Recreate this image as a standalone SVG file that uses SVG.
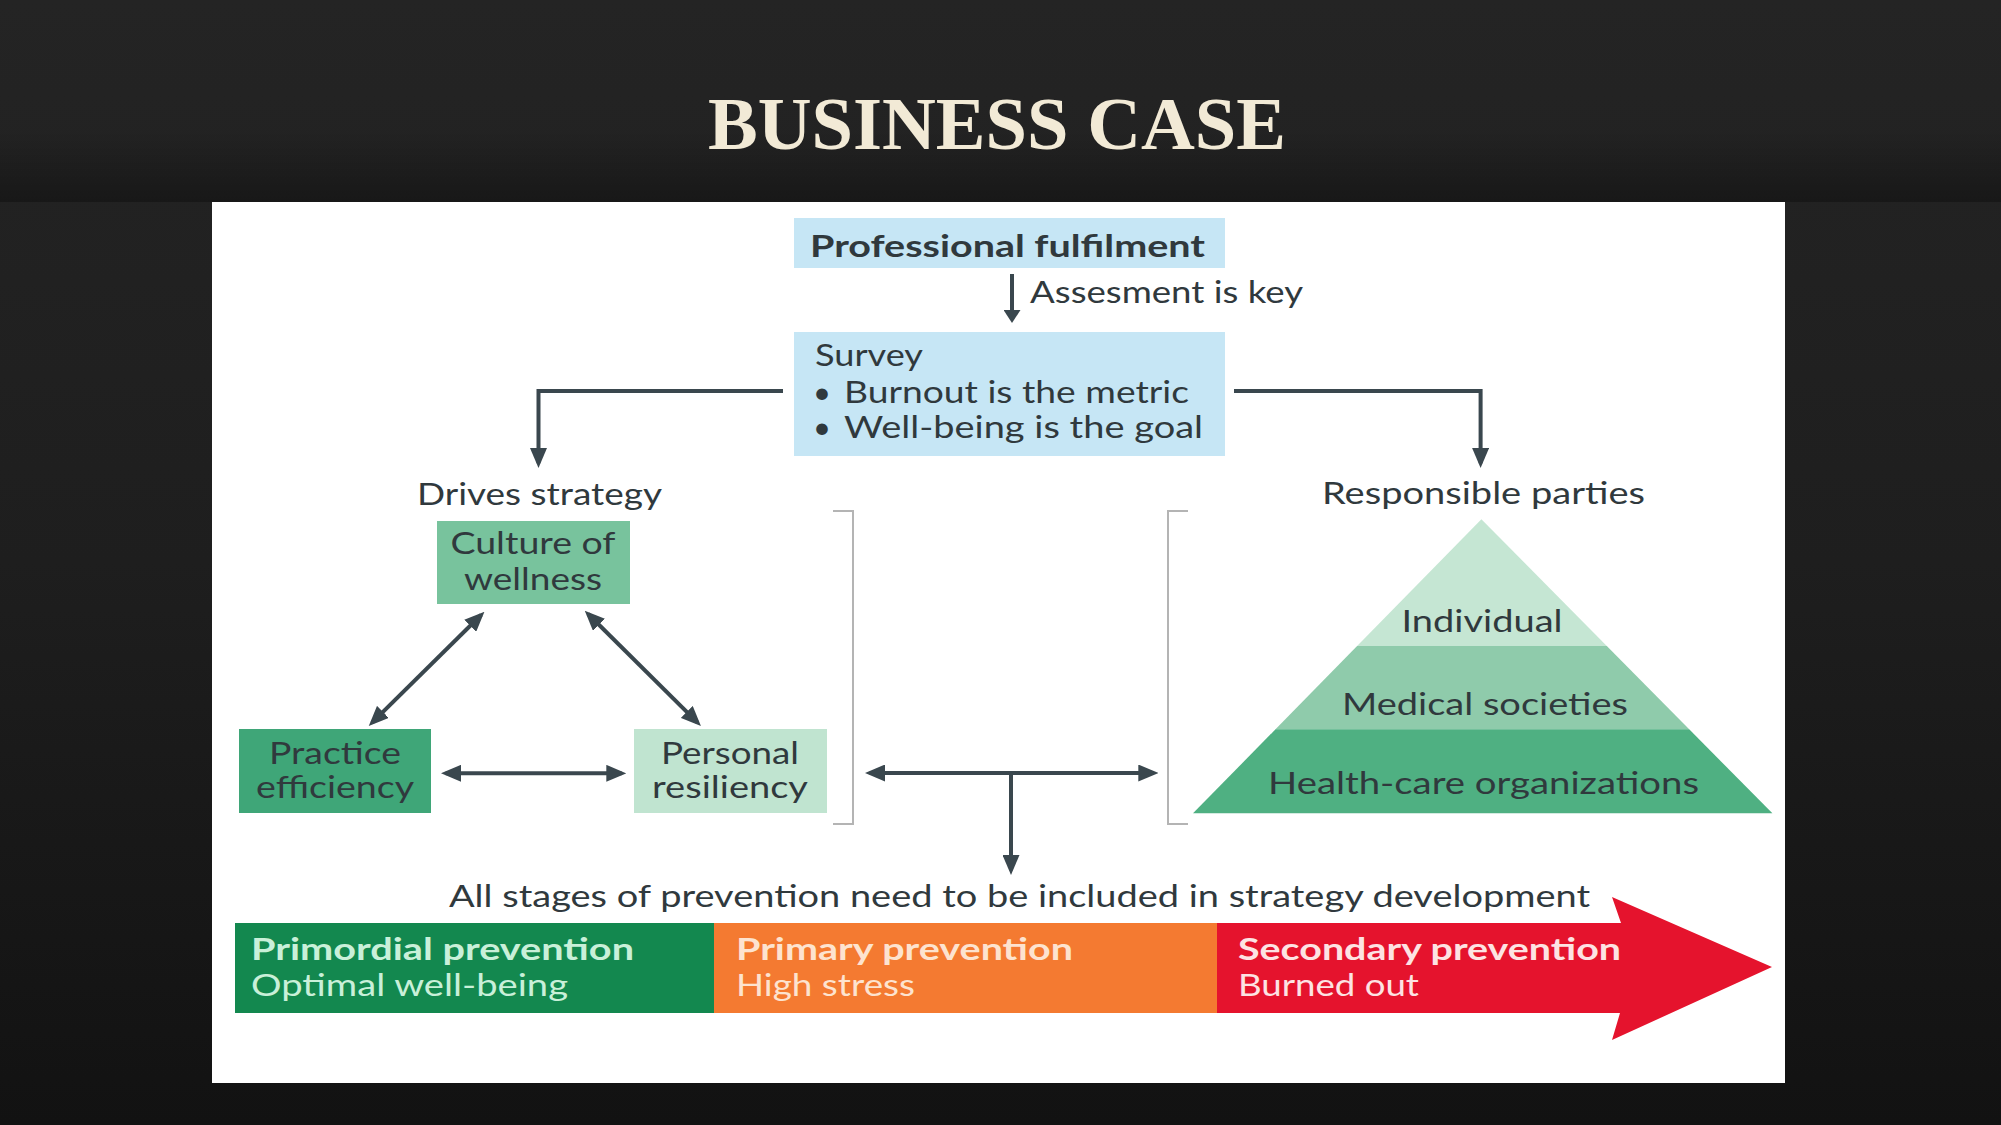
<svg xmlns="http://www.w3.org/2000/svg" width="2001" height="1125" viewBox="0 0 2001 1125">
<defs>
<linearGradient id="bg" x1="0" y1="0" x2="0" y2="1">
<stop offset="0" stop-color="#242424"/>
<stop offset="0.5" stop-color="#1e1e1e"/>
<stop offset="1" stop-color="#121212"/>
</linearGradient>
<linearGradient id="shade" x1="0" y1="0" x2="0" y2="1">
<stop offset="0" stop-color="#000" stop-opacity="0"/>
<stop offset="1" stop-color="#000" stop-opacity="0.3"/>
</linearGradient>
<marker id="ah" viewBox="0 0 20 17" refX="15.3" refY="8.5" markerWidth="20" markerHeight="17" markerUnits="userSpaceOnUse" orient="auto-start-reverse">
<path d="M0,0 L20,8.5 L0,17 z" fill="#3a474e"/>
</marker>
<marker id="ahs" viewBox="0 0 13 17" refX="10" refY="8.5" markerWidth="13" markerHeight="17" markerUnits="userSpaceOnUse" orient="auto-start-reverse">
<path d="M0,0 L13,8.5 L0,17 z" fill="#3a474e"/>
</marker>
</defs>
<style>
.t{font-family:Lato,"Open Sans","Liberation Sans",sans-serif;fill:#30393d;font-size:31px}
.b{font-weight:bold}
.c{text-anchor:middle}
.ln{fill:none;stroke:#3a474e;stroke-width:4}
.br{fill:none;stroke:#b4b4b4;stroke-width:2}
.band{font-family:Lato,"Open Sans","Liberation Sans",sans-serif;font-size:30px}
</style>
<rect x="0" y="0" width="2001" height="1125" fill="url(#bg)"/>
<rect x="0" y="130" width="2001" height="72" fill="url(#shade)"/>
<g id="title">
<text x="708" y="149" font-family="'Liberation Serif',serif" font-weight="bold" font-size="75" fill="#f2ead6" textLength="578" lengthAdjust="spacingAndGlyphs">BUSINESS CASE</text>
</g>
<g id="panel">
<rect x="212" y="202" width="1573" height="881" fill="#ffffff"/>
</g>
<g id="node-professional-fulfilment">
<rect x="794" y="218" width="431" height="50" fill="#c6e6f5"/>
<text class="t b" x="810" y="257" font-size="31" textLength="395" lengthAdjust="spacingAndGlyphs">Professional fulfilment</text>
</g>
<g id="label-assesment">
<text class="t" x="1030" y="303" font-size="30" textLength="273" lengthAdjust="spacingAndGlyphs">Assesment is key</text>
</g>
<g id="node-survey">
<rect x="794" y="332" width="431" height="124" fill="#c6e6f5"/>
<text class="t" x="815" y="366" textLength="108" lengthAdjust="spacingAndGlyphs">Survey</text>
<text class="t c" x="822" y="403">•</text>
<text class="t" x="844" y="403" textLength="345" lengthAdjust="spacingAndGlyphs">Burnout is the metric</text>
<text class="t c" x="822" y="438">•</text>
<text class="t" x="844" y="438" textLength="359" lengthAdjust="spacingAndGlyphs">Well-being is the goal</text>
</g>
<g id="label-drives-strategy">
<text class="t" x="417" y="505" font-size="29" textLength="245" lengthAdjust="spacingAndGlyphs">Drives strategy</text>
</g>
<g id="node-culture">
<rect x="437" y="521" width="193" height="83" fill="#78c39d"/>
<text class="t c" x="533" y="554" textLength="165" lengthAdjust="spacingAndGlyphs">Culture of</text>
<text class="t c" x="533" y="590" textLength="138" lengthAdjust="spacingAndGlyphs">wellness</text>
</g>
<g id="node-practice">
<rect x="239" y="729" width="192" height="84" fill="#3fa678"/>
<text class="t c" x="335" y="764" textLength="132" lengthAdjust="spacingAndGlyphs">Practice</text>
<text class="t c" x="335" y="798" textLength="158" lengthAdjust="spacingAndGlyphs">efficiency</text>
</g>
<g id="node-personal">
<rect x="634" y="729" width="193" height="84" fill="#c0e4d0"/>
<text class="t c" x="730" y="764" textLength="138" lengthAdjust="spacingAndGlyphs">Personal</text>
<text class="t c" x="730" y="798" textLength="156" lengthAdjust="spacingAndGlyphs">resiliency</text>
</g>
<g id="brackets">
<path class="br" d="M833,511 H853 V824 H833"/>
<path class="br" d="M1188,511 H1168 V824 H1188"/>
</g>
<g id="label-responsible-parties">
<text class="t" x="1322" y="504" font-size="29" textLength="323" lengthAdjust="spacingAndGlyphs">Responsible parties</text>
</g>
<g id="node-pyramid">
<polygon points="1481.4,519.3 1606.8,646 1357.1,646" fill="#c5e6d3"/>
<polygon points="1357.1,646 1606.8,646 1689.2,729.3 1275.5,729.3" fill="#8fcbab"/>
<polygon points="1275.5,729.3 1689.2,729.3 1772.4,813.3 1193,813.3" fill="#4fb082"/>
<text class="t c" x="1482" y="632" textLength="161" lengthAdjust="spacingAndGlyphs">Individual</text>
<text class="t c" x="1485" y="715" textLength="286" lengthAdjust="spacingAndGlyphs">Medical societies</text>
<text class="t c" x="1483.5" y="794" textLength="431" lengthAdjust="spacingAndGlyphs">Health-care organizations</text>
</g>
<g id="label-all-stages">
<text class="t" x="449" y="907" font-size="29" textLength="1141" lengthAdjust="spacingAndGlyphs">All stages of prevention need to be included in strategy development</text>
</g>
<g id="node-primordial">
<rect x="235" y="923" width="480" height="90" fill="#13884f"/>
<text class="band b" x="251" y="960" fill="#c9f0d9" textLength="383" lengthAdjust="spacingAndGlyphs">Primordial prevention</text>
<text class="band" x="251" y="996" fill="#c9f0d9" textLength="317" lengthAdjust="spacingAndGlyphs">Optimal well-being</text>
</g>
<g id="node-primary">
<rect x="714" y="923" width="504" height="90" fill="#f47a31"/>
<text class="band b" x="736" y="960" fill="#fde3cf" textLength="337" lengthAdjust="spacingAndGlyphs">Primary prevention</text>
<text class="band" x="736" y="996" fill="#fde3cf" textLength="179" lengthAdjust="spacingAndGlyphs">High stress</text>
</g>
<g id="node-secondary">
<polygon points="1217,923 1621,923 1612,897 1772,967 1612,1040 1620,1013 1217,1013" fill="#e5132d"/>
<text class="band b" x="1238" y="960" fill="#fde3e3" textLength="383" lengthAdjust="spacingAndGlyphs">Secondary prevention</text>
<text class="band" x="1238" y="996" fill="#fde3e3" textLength="181" lengthAdjust="spacingAndGlyphs">Burned out</text>
</g>
<g id="connectors">
<path class="ln" d="M1012,274 V320" stroke-width="3" marker-end="url(#ahs)"/>
<path class="ln" d="M783,391 H538.5 V463.3" marker-end="url(#ah)"/>
<path class="ln" d="M1234,391 H1480.6 V463.3" marker-end="url(#ah)"/>
<path class="ln" d="M481.1,615 L372.1,722.7" marker-start="url(#ah)" marker-end="url(#ah)"/>
<path class="ln" d="M588.1,614 L697.6,722.7" marker-start="url(#ah)" marker-end="url(#ah)"/>
<path class="ln" d="M445.7,773.3 H621.6" marker-start="url(#ah)" marker-end="url(#ah)"/>
<path class="ln" d="M869.7,773 H1153.6" marker-start="url(#ah)" marker-end="url(#ah)"/>
<path class="ln" d="M1011,773 V870.3" marker-end="url(#ah)"/>
</g>
</svg>
